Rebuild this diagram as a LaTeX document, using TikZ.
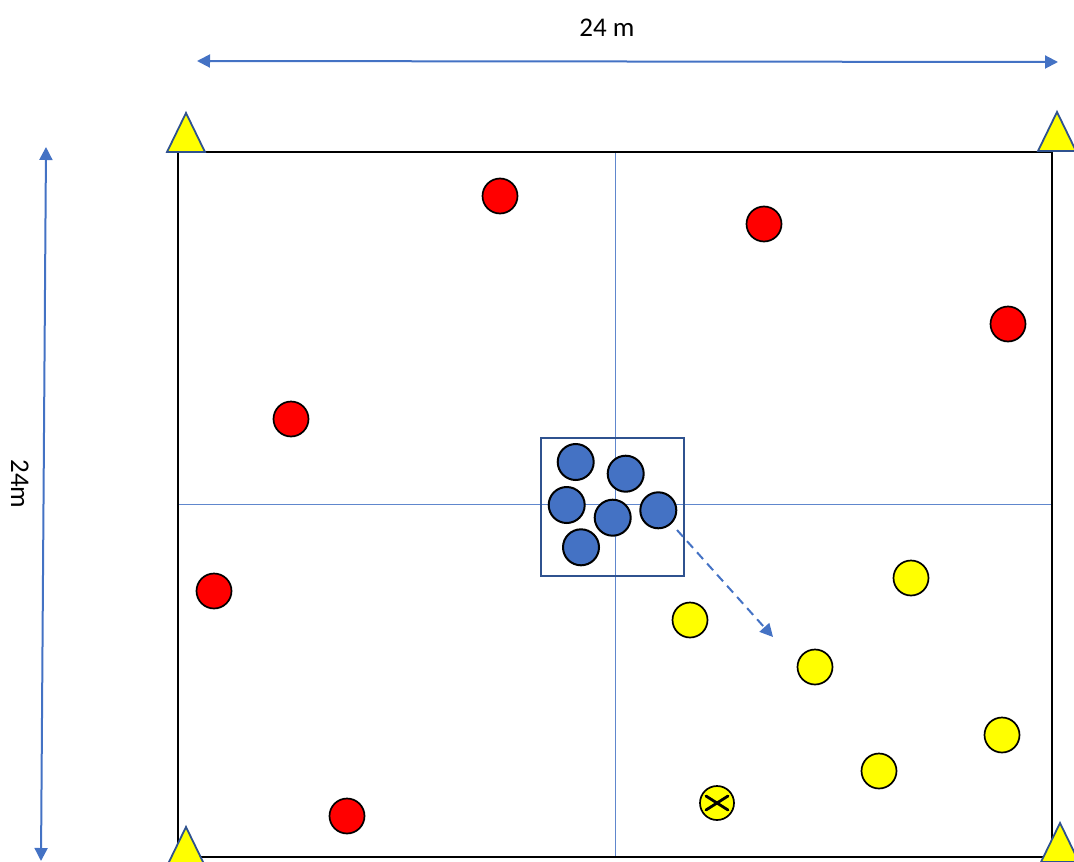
\documentclass[tikz,border=0pt]{standalone}
\usepackage{fontspec}
\setmainfont{Carlito}
\usetikzlibrary{arrows.meta}
\definecolor{accent}{HTML}{4472C4}
\definecolor{darkblue}{HTML}{2F528F}
\definecolor{cred}{HTML}{FF0000}
\definecolor{cyellow}{HTML}{FFFF00}
\tikzset{
  player/.style={circle, draw=black, line width=1.7pt, minimum size=35pt, inner sep=0pt},
  redp/.style={player, fill=cred},
  yelp/.style={player, fill=cyellow},
  bluep/.style={player, fill=accent, minimum size=36pt, line width=2pt},
  cone/.style={draw=darkblue, line width=1.8pt, fill=cyellow, line join=miter},
  dim/.style={draw=accent, line width=2pt, {Triangle[length=13pt,width=13pt]}-{Triangle[length=13pt,width=13pt]}},
  half/.style={draw=accent!85, line width=1pt},
  lbl/.style={font=\fontsize{27}{32}\selectfont, inner sep=0pt}
}
\begin{document}
\begin{tikzpicture}[x=1pt,y=-1pt]
\useasboundingbox (0,0) rectangle (1074,862);
% field
\coordinate (f1) at (178,152);
\coordinate (f2) at (1052,857);
\draw[half] (615,152) -- (615,857);
\draw[half] (178,504) -- (1052,504);
\draw[black, line width=2.5pt] (f1) rectangle (f2);
% cones
\draw[cone] (186,113) -- (205,152) -- (167,152) -- cycle;
\draw[cone] (1057,112) -- (1076,151) -- (1038,151) -- cycle;
\draw[cone] (186,827) -- (205,866) -- (167,866) -- cycle;
\draw[cone] (1060,823) -- (1079,862) -- (1041,862) -- cycle;
% dimensions
\coordinate (h1) at (197,61);
\coordinate (h2) at (1058,62);
\draw[dim] (h1) -- (h2);
\node[lbl] (hl) at (607,28) {24 m};
\coordinate (v1) at (46,147);
\coordinate (v2) at (41,861);
\draw[dim] (v1) -- (v2);
\node[lbl, rotate=-90] (vl) at (20,484) {24m};
% center box
\node[draw=darkblue, line width=1.8pt, minimum width=143pt, minimum height=138pt, inner sep=0pt] (box) at (612.5,506.7) {};
\node[bluep] (b1) at (575.7,462) {};
\node[bluep] (b2) at (625.7,473.7) {};
\node[bluep] (b3) at (566.7,505) {};
\node[bluep] (b4) at (612.7,517.7) {};
\node[bluep] (b5) at (658.3,510.3) {};
\node[bluep] (b6) at (581,547.3) {};
% red players
\node[redp] (r1) at (500,196) {};
\node[redp] (r2) at (764,224) {};
\node[redp] (r3) at (1008,324) {};
\node[redp] (r4) at (291,419) {};
\node[redp] (r5) at (214,591) {};
\node[redp] (r6) at (347,816) {};
% yellow players
\node[yelp] (y1) at (911,578) {};
\node[yelp] (y2) at (690,620) {};
\node[yelp] (y3) at (815,667) {};
\node[yelp] (y4) at (1002,735) {};
\node[yelp] (y5) at (879,771) {};
\node[yelp, minimum size=34pt] (y6) at (717,803) {};
\draw[black, line width=2.8pt, line cap=round] (y6.center) ++(-11,-7) -- ++(22,14);
\draw[black, line width=2.8pt, line cap=round] (y6.center) ++(-11,7) -- ++(22,-14);
% run arrow
\coordinate (ra) at (677,530);
\coordinate (rb) at (773,637);
\draw[accent, line width=2pt, dash pattern=on 9pt off 6pt, -{Triangle[length=13pt,width=13pt]}] (ra) -- (rb);
\end{tikzpicture}
\end{document}
